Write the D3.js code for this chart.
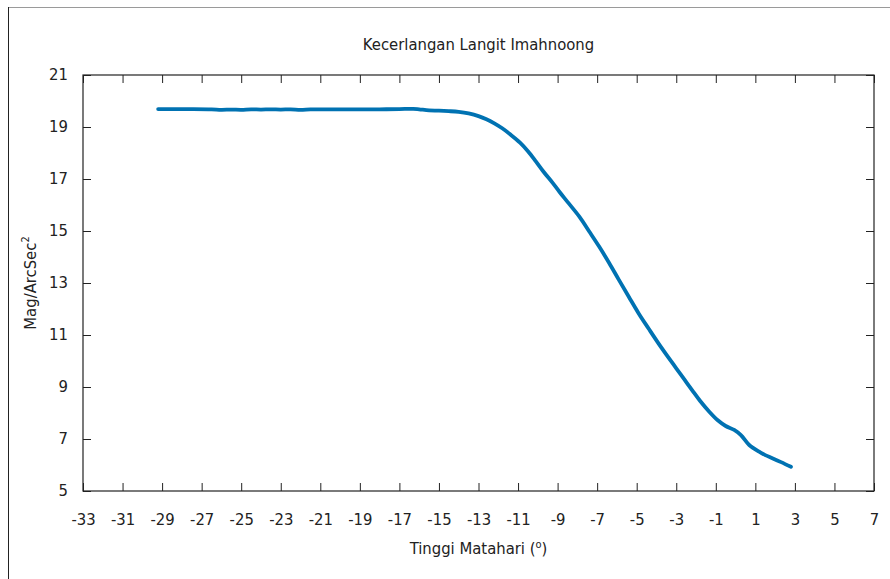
<!DOCTYPE html>
<html><head><meta charset="utf-8">
<script src="https://cdn.jsdelivr.net/npm/d3@7"></script>
<style>
html,body{margin:0;padding:0;background:#fff;}
svg text{font-family:"DejaVu Sans Condensed","Liberation Sans",sans-serif;fill:#222;}
</style></head>
<body>
<svg id="c" width="890" height="579"></svg>
<script>
const title = "Kecerlangan Langit Imahnoong";
const xLabel = "Tinggi Matahari (";
const yLabel = "Mag/ArcSec";
const xTicks = [-33,-31,-29,-27,-25,-23,-21,-19,-17,-15,-13,-11,-9,-7,-5,-3,-1,1,3,5,7];
const yTicks = [5,7,9,11,13,15,17,19,21];
// Sun altitude (deg)
const altitude = [-29.2,-28.5,-27.5,-26.5,-26.0,-25.5,-25.0,-24.5,-24.0,-23.5,-23.0,-22.5,-22.0,-21.5,-21.0,-20.0,-19.0,-18.0,-17.0,-16.3,-16.0,-15.5,-15.0,-14.5,-14.0,-13.5,-13.0,-12.6,-12.2,-11.8,-11.4,-10.9,-10.5,-10.1,-9.7,-9.25,-8.9,-8.5,-7.9,-7.4,-6.9,-6.4,-5.9,-5.4,-4.9,-4.4,-3.9,-3.4,-3.0,-2.6,-2.2,-1.8,-1.33,-0.9,-0.5,-0.07,0.27,0.69,1.19,1.5,1.86,2.3,2.8];
// Sky brightness (mag/arcsec^2)
const brightness = [19.69,19.69,19.69,19.68,19.66,19.67,19.66,19.68,19.67,19.68,19.67,19.68,19.66,19.68,19.68,19.68,19.68,19.68,19.69,19.70,19.68,19.64,19.63,19.61,19.58,19.52,19.42,19.30,19.14,18.95,18.72,18.40,18.07,17.68,17.27,16.85,16.50,16.12,15.55,14.98,14.40,13.78,13.12,12.47,11.83,11.25,10.68,10.14,9.72,9.30,8.88,8.47,8.05,7.72,7.50,7.35,7.15,6.77,6.51,6.38,6.26,6.11,5.93];

const svg = d3.select("#c");
const L=83, R=874, T=75, B=491;
const FS=16.5;
const x = d3.scaleLinear().domain([-33,7]).range([L,R]);
const y = d3.scaleLinear().domain([5,21]).range([B,T]);

// window frame
svg.append("line").attr("x1",8).attr("x2",890).attr("y1",7.5).attr("y2",7.5).attr("stroke","#9a9a9a");
svg.append("line").attr("x1",8.5).attr("x2",8.5).attr("y1",7).attr("y2",579).attr("stroke","#222");

// title
svg.append("text").attr("x",(L+R)/2).attr("y",50).attr("text-anchor","middle").attr("font-size",FS).text(title);

const tickLen=8;
const gx = svg.append("g").attr("transform",`translate(0,${B})`)
  .call(d3.axisBottom(x).tickValues(xTicks).tickSize(-tickLen).tickPadding(22).tickFormat(d=>d<0?"-"+Math.abs(d):d));
const gxt = svg.append("g").attr("transform",`translate(0,${T})`)
  .call(d3.axisTop(x).tickValues(xTicks).tickSize(-tickLen).tickFormat(""));
const gy = svg.append("g").attr("transform",`translate(${L},0)`)
  .call(d3.axisLeft(y).tickValues(yTicks).tickSize(-tickLen).tickPadding(15));
const gyr = svg.append("g").attr("transform",`translate(${R},0)`)
  .call(d3.axisRight(y).tickValues(yTicks).tickSize(-tickLen).tickFormat(""));
[gx,gxt,gy,gyr].forEach(g=>{
  g.select(".domain").remove();
  g.selectAll("line").attr("stroke","#222");
  g.selectAll("text").attr("font-size",FS).attr("fill","#222")
   .style("font-family",'"DejaVu Sans Condensed","Liberation Sans",sans-serif');
});
gy.selectAll("text").attr("dy","0.3em");
// box
svg.append("rect").attr("x",L).attr("y",T).attr("width",R-L).attr("height",B-T)
  .attr("fill","none").attr("stroke","#222").attr("stroke-width",1.2);

// axis labels
const xl = svg.append("text").attr("x",(L+R)/2).attr("y",554).attr("text-anchor","middle").attr("font-size",FS);
xl.append("tspan").text(xLabel);
xl.append("tspan").attr("dy",-6).attr("font-size",11).text("o");
xl.append("tspan").attr("dy",6).text(")");
const yl = svg.append("text").attr("transform",`translate(36,${(T+B)/2}) rotate(-90)`).attr("text-anchor","middle").attr("font-size",FS);
yl.append("tspan").text(yLabel);
yl.append("tspan").attr("dy",-7).attr("font-size",11).text("2");

// data line
const pts = altitude.map((a,i)=>[a,brightness[i]]);
svg.append("path").datum(pts)
  .attr("d",d3.line().x(d=>x(d[0])).y(d=>y(d[1])).curve(d3.curveCatmullRom.alpha(0.5)))
  .attr("fill","none").attr("stroke","#0072b2").attr("stroke-width",3.8)
  .attr("stroke-linecap","round").attr("stroke-linejoin","round");
</script>
</body></html>
